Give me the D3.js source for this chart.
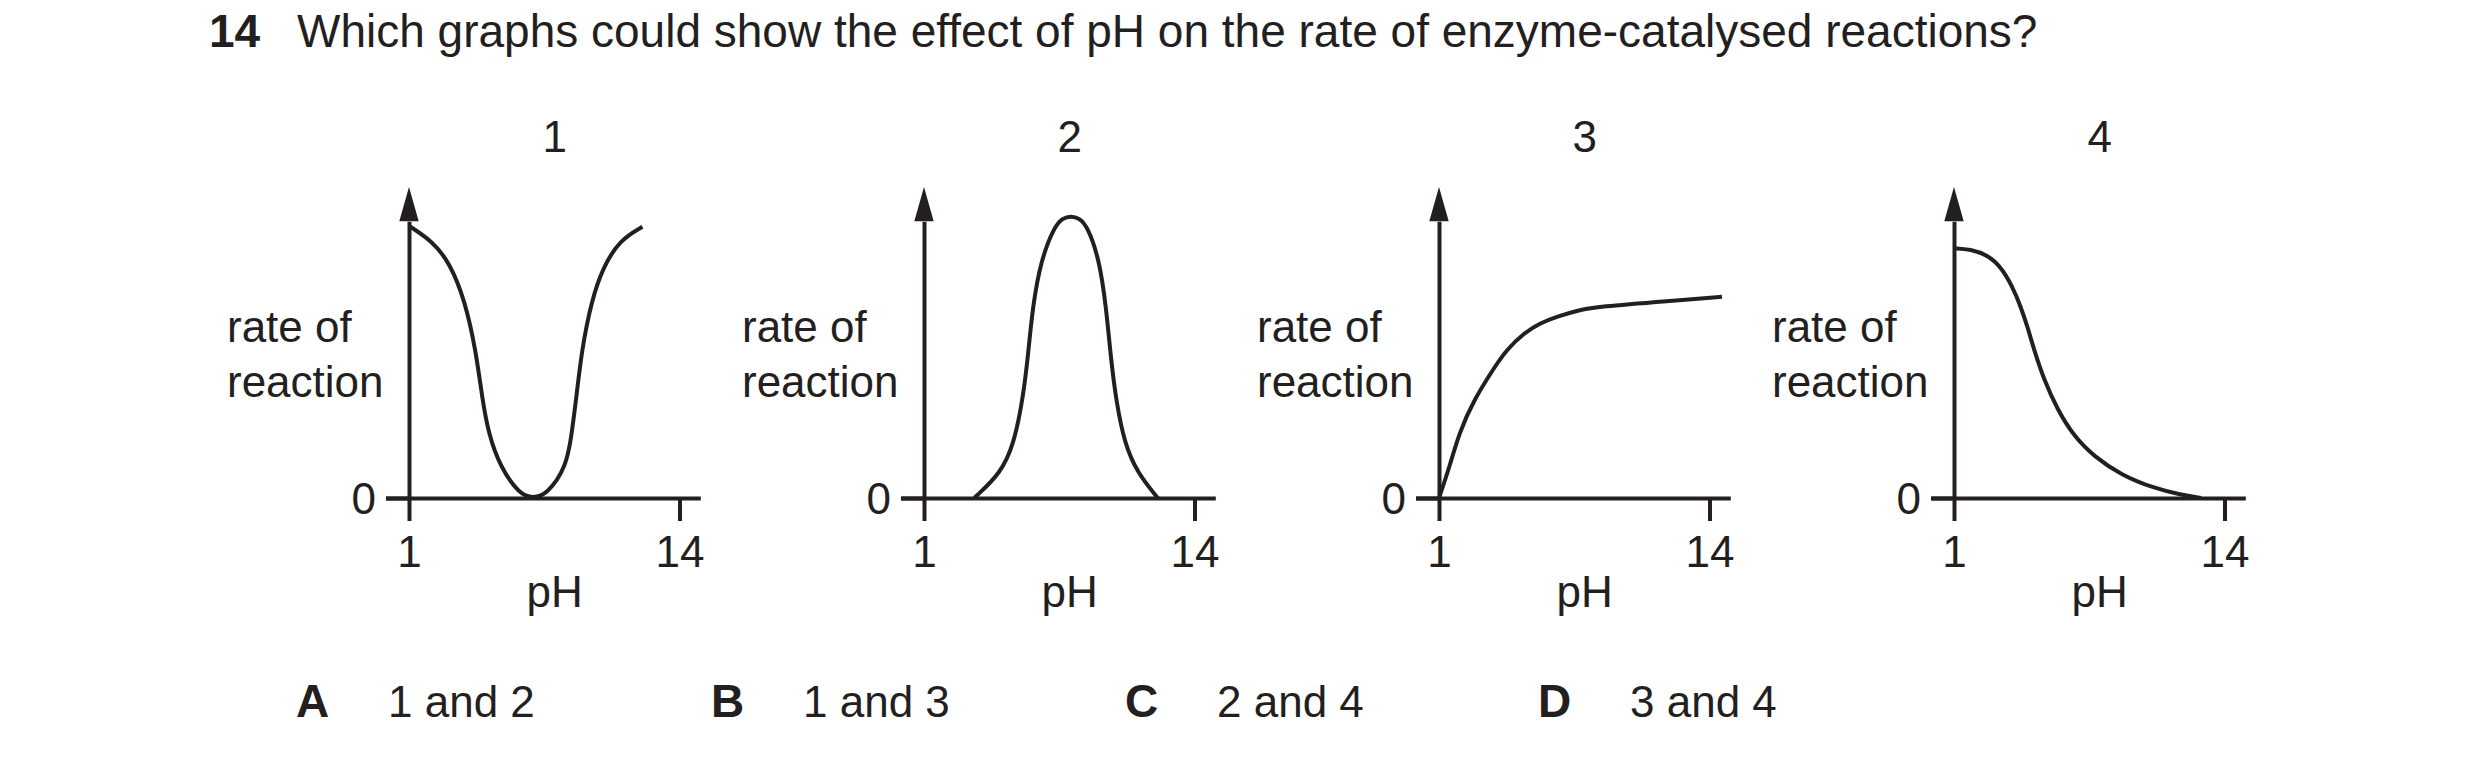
<!DOCTYPE html>
<html>
<head>
<meta charset="utf-8">
<script src="https://cdn.jsdelivr.net/npm/d3@7/dist/d3.min.js"></script>
<style>
  html, body { margin: 0; padding: 0; background: #ffffff; }
  svg { display: block; }
  text { font-family: "Liberation Sans", Arial, Helvetica, sans-serif; fill: #231f20; }
</style>
</head>
<body>
<div id="holder"></div>
<script>
//*************
// data
//*************

var questionNumber = "14";
var questionText = "Which graphs could show the effect of pH on the rate of enzyme-catalysed reactions?";

var panelLabels = ["1", "2", "3", "4"];
var xTickValues = [1, 14];
var yTickValues = [0];
var xLabel = "pH";
var yLabelLines = ["rate of", "reaction"];

// rate is relative: 1 = top of the y arrow
var graph1PH   = [1.0, 2.16, 2.96, 3.68, 4.21, 4.53, 4.82, 5.37, 6.33, 6.97, 7.61, 8.58, 8.82, 9.03, 9.30, 9.78, 10.34, 11.14, 12.22];
var graph1Rate = [0.875, 0.824, 0.755, 0.637, 0.476, 0.315, 0.208, 0.101, 0.01, 0, 0.01, 0.101, 0.208, 0.315, 0.476, 0.637, 0.744, 0.830, 0.872];

var graph2PH   = [3.41, 4.69, 5.33, 5.74, 5.98, 6.22, 6.62, 7.26, 7.66, 8.06, 8.46, 8.87, 9.43, 9.75, 9.99, 10.23, 10.63, 11.27, 12.24];
var graph2Rate = [0, 0.079, 0.176, 0.315, 0.444, 0.615, 0.765, 0.872, 0.900, 0.907, 0.900, 0.872, 0.765, 0.615, 0.444, 0.315, 0.176, 0.079, 0];

var graph3PH   = [1.0, 1.51, 1.96, 2.67, 3.68, 4.24, 5.08, 5.85, 6.65, 7.77, 8.58, 12.11, 14.6];
var graph3Rate = [0, 0.101, 0.208, 0.315, 0.422, 0.476, 0.530, 0.562, 0.583, 0.605, 0.615, 0.634, 0.647];

var graph4PH   = [1.0, 1.80, 2.61, 3.25, 3.81, 4.21, 4.53, 4.85, 5.33, 5.98, 6.78, 7.74, 9.03, 10.63, 11.91, 12.88];
var graph4Rate = [0.803, 0.800, 0.781, 0.744, 0.680, 0.615, 0.551, 0.476, 0.379, 0.283, 0.197, 0.133, 0.074, 0.031, 0.01, 0];

var optionLetters = ["A", "B", "C", "D"];
var optionTexts = ["1 and 2", "1 and 3", "2 and 4", "3 and 4"];

//*************
// layout
//*************

var W = 2480, H = 757;
var ink = "#231f20";
var panelX = [409, 924, 1439, 1954];   // where each y axis sits
var optionX = [296, 711, 1125, 1538];
var fontSize = 44;

var svg = d3.select("#holder").append("svg")
  .attr("width", W)
  .attr("height", H);

// question line
svg.append("text")
  .attr("x", 209).attr("y", 47)
  .attr("font-size", 46).attr("font-weight", "bold")
  .text(questionNumber);
svg.append("text")
  .attr("x", 297).attr("y", 47)
  .attr("font-size", 46)
  .text(questionText);

// scales shared by all four sketches
var x = d3.scaleLinear().domain([1, 14]).range([0, 270.5]);
var xAxisScale = x.copy().domain([-0.12, 15]).range([x(-0.12), x(15)]);
var y = d3.scaleLinear().domain([0, 1]).range([498, 187]);
var arrowBase = 0.89;
var yAxisScale = y.copy().domain([0, arrowBase]).range([y(0), y(arrowBase)]);

var line = d3.line()
  .x(function(d) { return x(d.ph); })
  .y(function(d) { return y(d.rate); })
  .curve(d3.curveBasis);

var graphs = [
  [graph1PH, graph1Rate],
  [graph2PH, graph2Rate],
  [graph3PH, graph3Rate],
  [graph4PH, graph4Rate]
];

function drawPanel(i) {
  var g = svg.append("g").attr("transform", "translate(" + panelX[i] + ",0)");

  // x axis
  var xAxis = d3.axisBottom(xAxisScale)
    .tickValues(xTickValues)
    .tickFormat(d3.format("d"))
    .tickSize(23)
    .tickSizeOuter(0)
    .tickPadding(15);
  var gx = g.append("g")
    .attr("transform", "translate(0," + y(0) + ")")
    .call(xAxis);

  // y axis
  var yAxis = d3.axisLeft(yAxisScale)
    .tickValues(yTickValues)
    .tickFormat(d3.format("d"))
    .tickSize(23)
    .tickSizeOuter(0)
    .tickPadding(10);
  var gy = g.append("g").call(yAxis);

  [gx, gy].forEach(function(a) {
    a.select(".domain").attr("stroke", ink).attr("stroke-width", 4);
    a.selectAll(".tick line").attr("stroke", ink).attr("stroke-width", 4);
    a.selectAll(".tick text")
      .attr("fill", ink)
      .attr("font-size", fontSize)
      .attr("font-family", '"Liberation Sans", Arial, sans-serif');
  });
  gy.selectAll(".tick text").attr("dy", "0.36em");

  // arrow head on the y axis
  g.append("path")
    .attr("d", "M0," + y(1) + "L-9.7," + y(arrowBase) + "L9.7," + y(arrowBase) + "Z")
    .attr("fill", ink);

  // curve
  var pts = graphs[i][0].map(function(p, k) { return { ph: p, rate: graphs[i][1][k] }; });
  g.append("path")
    .datum(pts)
    .attr("d", line)
    .attr("fill", "none")
    .attr("stroke", ink)
    .attr("stroke-width", 4);

  // labels
  g.append("text")
    .attr("x", x(8)).attr("y", 152)
    .attr("text-anchor", "middle")
    .attr("font-size", fontSize)
    .text(panelLabels[i]);

  g.append("text")
    .attr("x", x(8)).attr("y", 607)
    .attr("text-anchor", "middle")
    .attr("font-size", fontSize)
    .text(xLabel);

  g.append("text")
    .attr("x", -182).attr("y", 342)
    .attr("font-size", fontSize)
    .selectAll("tspan")
    .data(yLabelLines)
    .enter().append("tspan")
    .attr("x", -182)
    .attr("dy", function(d, k) { return k === 0 ? 0 : 55; })
    .text(function(d) { return d; });
}

for (var i = 0; i < panelLabels.length; i++) drawPanel(i);

// answer options
optionLetters.forEach(function(l, k) {
  svg.append("text")
    .attr("x", optionX[k]).attr("y", 717)
    .attr("font-size", 46).attr("font-weight", "bold")
    .text(l);
  svg.append("text")
    .attr("x", optionX[k] + 92).attr("y", 717)
    .attr("font-size", fontSize)
    .text(optionTexts[k]);
});
</script>
</body>
</html>
